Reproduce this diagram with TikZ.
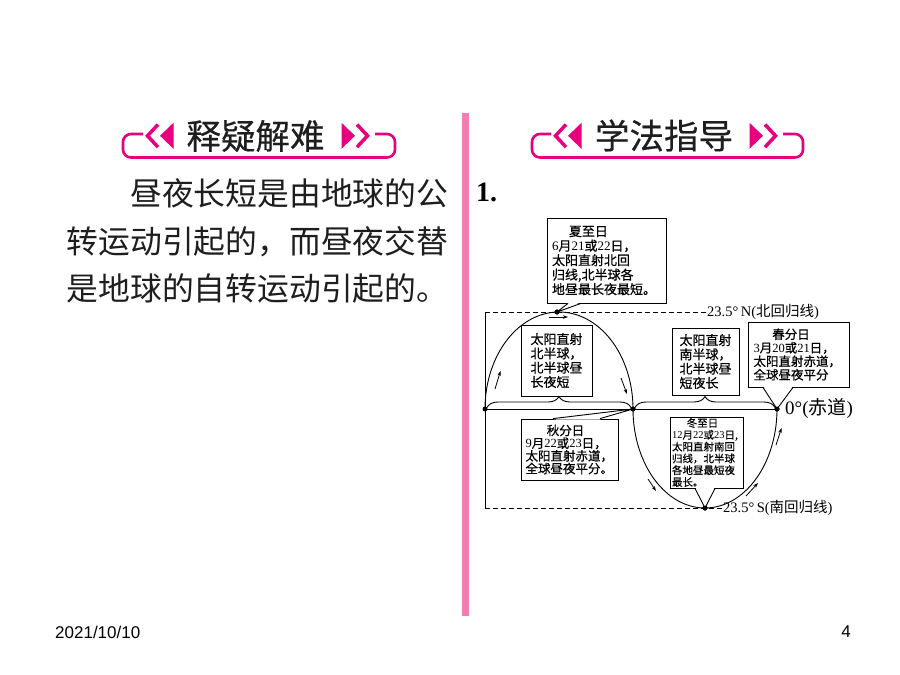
\documentclass[tikz,border=0pt]{standalone}
\usepackage{fontspec}
\setmainfont{Liberation Serif}
\newfontfamily\cjk{Noto Sans CJK SC}
\newfontfamily\cjkd[FakeBold=0.6]{Noto Sans CJK SC}
\newfontfamily\cjkh[FakeBold=0.5]{Noto Sans CJK SC}
\newfontfamily\arialf{Liberation Sans}
\usetikzlibrary{arrows.meta,decorations.pathreplacing,calc}
\definecolor{badge}{RGB}{230,0,126}
\definecolor{barpink}{RGB}{242,125,175}
\definecolor{ink}{RGB}{30,30,30}
\newcommand\dnum[1]{{\rmfamily #1}}
\begin{document}
\begin{tikzpicture}[x=1pt,y=-1pt,
  frame/.style={draw=badge,line width=2.6,rounded corners=8},
  headtxt/.style={font=\cjkh\fontsize{34.5}{34.5}\selectfont,text=ink,inner sep=0},
  bodytxt/.style={font=\cjk\fontsize{31.8}{38}\selectfont,text=ink,inner sep=0,anchor=base west},
  cbox/.style={draw,line width=0.8,fill=white,align=left,inner ysep=0.5,text=black},
  diag/.style={line width=0.9},
  dashline/.style={line width=0.9,dash pattern=on 5pt off 3pt},
  dot/.style={circle,fill=black,inner sep=0,minimum size=5},
  marr/.style={-{Stealth[length=5pt,width=3.5pt]},line width=0.8},
  lbl/.style={inner sep=0,font=\fontsize{14.5}{15}\selectfont,anchor=west},
  lpair/.pic={
    \draw[badge,line width=3.5] (13,-11.3) -- (2.5,0) -- (13,11.3);
    \fill[badge] (15,0) -- (28.5,-13) -- (28.5,13) -- cycle;
  }
]
\useasboundingbox (0,0) rectangle (900,675);
\fill[white] (0,0) rectangle (900,675);

% ---------- headers ----------
\draw[frame] (143,134) -- (123,134) -- (123,157.5) -- (395,157.5) -- (395,134) -- (375,134);
\pic at (145,135.8) {lpair};
\pic[xscale=-1] at (370,135.8) {lpair};
\node[headtxt] (h1) at (255.5,136) {释疑解难};

\draw[frame] (551,134) -- (532,134) -- (532,157.5) -- (803,157.5) -- (803,134) -- (783,134);
\pic at (553,135.8) {lpair};
\pic[xscale=-1] at (778,135.8) {lpair};
\node[headtxt] (h2) at (664,135.5) {学法指导};

% ---------- divider ----------
\fill[barpink] (462,113) rectangle (469,616);

% ---------- left text ----------
\node[bodytxt] (t1) at (130,205) {昼夜长短是由地球的公};
\node[bodytxt] (t2) at (66.5,253) {转运动引起的，而昼夜交替};
\node[bodytxt] (t3) at (66.5,300) {是地球的自转运动引起的。};

% ---------- number ----------
\node[anchor=base west,font=\bfseries\fontsize{28}{28}\selectfont,inner sep=0] (num) at (476,201) {1.};

% ---------- diagram frame ----------
\coordinate (tl) at (485,312);
\coordinate (bl) at (485,508);
\node[lbl] (nlab) at (707,312) {23.5°\,N({\cjk 北回归线})};
\node[lbl] (slab) at (723,508) {23.5°\,S({\cjk 南回归线})};
\node[lbl,font=\fontsize{19}{20}\selectfont] (eqlab) at (785,408) {0°({\cjk 赤道})};

\draw[dashline] (tl) -- (nlab.west);
\draw[dashline] (bl) -- (slab.west);
\draw[diag] (tl) -- (bl);

\node[dot] (e0) at (485,409) {};
\node[dot] (e1) at (633,409) {};
\node[dot] (e2) at (777,409) {};
\node[dot] (pk) at (557,312) {};
\node[dot] (tr) at (705,508) {};
\draw[diag] (e0.center) -- (e2.center);

% orbit curve
\draw[diag] plot[domain=180:0,samples=80,smooth] ({559+74*cos(\x)},{409-97*sin(\x)});
\draw[diag] plot[domain=180:360,samples=80,smooth] ({705+72*cos(\x)},{409-99*sin(\x)});

% small motion arrows
\draw[marr] (495,389) -- (500.5,371);
\draw[marr] (549,317) -- (568,317);
\draw[marr] (621,378) -- (627,394);
\draw[marr] (648,479) -- (656,491);
\draw[marr] (746,496) -- (758,483);
\draw[marr] (776,445) -- (781.5,428);

% braces
\draw[diag,decorate,decoration={brace,amplitude=11}] ($(e0)+(2,-1.5)$) -- ($(e1)+(-2,-1.5)$);
\draw[diag,decorate,decoration={brace,amplitude=11}] ($(e1)+(2,-1.5)$) -- ($(e2)+(-2,-1.5)$);

% ---------- boxes ----------
\node[cbox,font=\cjkd\fontsize{13}{14.5}\selectfont,inner xsep=5,text width=109,minimum width=119,minimum height=85] (b1) at (606.5,260.5)
  {\hspace*{1.3em}夏至日\\\dnum{6}月\dnum{21}或\dnum{22}日，\\太阳直射北回\\归线,北半球各\\地昼最长夜最短。};
\node[cbox,font=\cjkd\fontsize{13}{14.3}\selectfont,inner xsep=9.5,text width=52,minimum width=71,minimum height=71] (b2) at (556.5,360.5)
  {太阳直射\\北半球，\\北半球昼\\长夜短};
\node[cbox,font=\cjkd\fontsize{13}{14.3}\selectfont,inner xsep=7.5,text width=52,minimum width=67,minimum height=67] (b3) at (705.5,361.5)
  {太阳直射\\南半球，\\北半球昼\\短夜长};
\node[cbox,font=\cjkd\fontsize{12.5}{13.5}\selectfont,inner xsep=5.5,text width=90,minimum width=101,minimum height=65] (b4) at (798.5,354.5)
  {\hspace*{1.5em}春分日\\\dnum{3}月\dnum{20}或\dnum{21}日，\\太阳直射赤道，\\全球昼夜平分};
\node[cbox,font=\cjkd\fontsize{12.5}{12.7}\selectfont,inner xsep=4.5,text width=88,minimum width=97,minimum height=61] (b5) at (569.5,449.5)
  {\hspace*{1.7em}秋分日\\\dnum{9}月\dnum{22}或\dnum{23}日，\\太阳直射赤道，\\全球昼夜平分。};
\node[cbox,font=\cjkd\fontsize{10.5}{11.8}\selectfont,inner xsep=2,text width=69,minimum width=73,minimum height=71] (b6) at (706.5,452.5)
  {\hspace*{1.4em}冬至日\\\dnum{12}月\dnum{22}或\dnum{23}日,\\太阳直射南回\\归线，北半球\\各地昼最短夜\\最长。};

% ---------- callout pointers ----------
\fill[white] ($(b1.south)+(-38,-1)$) -- (pk.center) -- ($(b1.south)+(-26,-1)$) -- cycle;
\draw[diag] ($(b1.south)+(-38.5,0)$) -- (pk.center) -- ($(b1.south)+(-25.5,0)$);

\fill[white] ($(b4.south)+(-35,-1)$) -- (e2.center) -- ($(b4.south)+(-6,-1)$) -- cycle;
\draw[diag] ($(b4.south)+(-35.5,0)$) -- (e2.center) -- ($(b4.south)+(-5.5,0)$);

\fill[white] ($(b5.north)+(-16,1)$) -- (e1.center) -- ($(b5.north)+(30,1)$) -- cycle;
\draw[diag] ($(b5.north)+(-16.5,0)$) -- (e1.center) -- ($(b5.north)+(30.5,0)$);

\fill[white] ($(b6.south)+(-11,-1)$) -- (tr.center) -- ($(b6.south)+(8,-1)$) -- cycle;
\draw[diag] ($(b6.south)+(-11.5,0)$) -- (tr.center) -- ($(b6.south)+(8.5,0)$);

\node[dot] at (pk.center) {};
\node[dot] at (e1.center) {};
\node[dot] at (e2.center) {};
\node[dot] at (tr.center) {};

% ---------- footer ----------
\node[anchor=west,font=\arialf\fontsize{17}{17}\selectfont,inner sep=0] (date) at (55,632) {2021/10/10};
\node[anchor=east,font=\arialf\fontsize{17}{17}\selectfont,inner sep=0] (pg) at (851,632) {4};
\end{tikzpicture}
\end{document}
